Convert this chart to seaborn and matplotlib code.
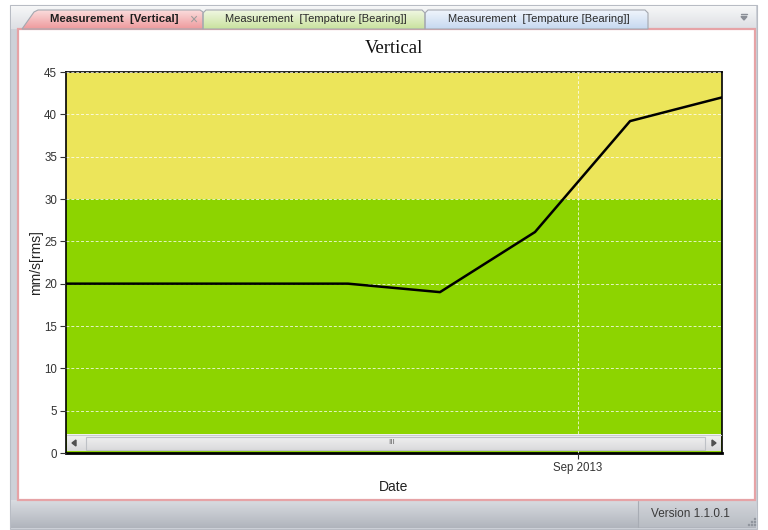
import matplotlib
matplotlib.use("Agg")
import matplotlib.pyplot as plt
import matplotlib.dates as mdates
from matplotlib.colors import to_rgb
from matplotlib.patches import Rectangle, Polygon
import numpy as np
import pandas as pd
import seaborn as sns

# data
dates = pd.to_datetime(["2013-03-18", "2013-04-18", "2013-05-18", "2013-06-18",
                        "2013-07-18", "2013-08-18", "2013-09-18", "2013-10-18"])
vertical = [20.0, 20.0, 20.0, 20.0, 19.0, 26.1, 39.2, 42.0]
warning_level = 30
y_max = 45
y_ticks = list(range(0, 50, 5))
tab_titles = ["Measurement  [Vertical]",
              "Measurement  [Tempature [Bearing]]",
              "Measurement  [Tempature [Bearing]]"]
version_text = "Version 1.1.0.1"

W, H = 768, 530
sns.set_style("white")
plt.rcParams["font.family"] = ["Liberation Sans", "DejaVu Sans"]

fig = plt.figure(figsize=(W / 100, H / 100), dpi=100)
fig.patch.set_facecolor("white")

# pixel-space background for the window chrome
bg = fig.add_axes([0, 0, 1, 1], zorder=0)
bg.set_xlim(0, W)
bg.set_ylim(H, 0)
bg.axis("off")


def grad(ax, x0, x1, y0, y1, c_top, c_bot, clip=None, z=1):
    t = np.linspace(0, 1, 64)[:, None, None]
    img = np.array(to_rgb(c_top)) * (1 - t) + np.array(to_rgb(c_bot)) * t
    im = ax.imshow(img, extent=(x0, x1, y1, y0), aspect="auto", zorder=z,
                   interpolation="bilinear")
    if clip is not None:
        im.set_clip_path(clip)
    return im


# outer frame
bg.add_patch(Rectangle((10, 5), 747, 524, facecolor="#CDD1D8", edgecolor="#B8BCC4", lw=0.8, zorder=0.5))
grad(bg, 11, 756, 6, 29, "#F6F7F8", "#DDDFE3")
# status bar
grad(bg, 11, 756, 500, 528, "#D9DCE1", "#B0B4BC")
bg.plot([638, 638], [501, 527], color="#A8ACB4", lw=0.8, zorder=2)
grad(bg, 639, 756, 501, 527, "#D2D5DA", "#B8BCC3", z=1.5)
bg.text(690, 514, version_text, fontsize=8.5, color="#3A3A3A", ha="center", va="center", zorder=3)
for dx, dy in [(748, 524), (751, 524), (751, 521), (754, 524), (754, 521), (754, 518)]:
    bg.add_patch(Rectangle((dx, dy), 1.2, 1.2, color="#8F949C", zorder=3))

# content panel
bg.add_patch(Rectangle((18, 29), 737, 471, facecolor="white", edgecolor="#E6A3A6", lw=1.6, zorder=2))

# tabs
tab_specs = [
    ([(22, 29), (34, 12), (38, 10), (200, 10), (203, 12), (203, 29)], "#FBDCDC", "#EE9A9D", 114, True),
    ([(203, 29), (203, 13), (206, 10), (422, 10), (425, 13), (425, 29)], "#F0F7E2", "#C9E29E", 316, False),
    ([(425, 29), (425, 13), (428, 10), (645, 10), (648, 13), (648, 29)], "#F0F5FC", "#C6D8F0", 539, False),
]
for (pts, c_top, c_bot, cx, bold), title in zip(tab_specs, tab_titles):
    poly = Polygon(pts, closed=True, facecolor="none", edgecolor="#A4A8B0", lw=0.8, zorder=4)
    bg.add_patch(poly)
    xs = [p[0] for p in pts]
    grad(bg, min(xs), max(xs), 10, 29, c_top, c_bot, clip=poly, z=3)
    bg.text(cx, 19.5, title, fontsize=8.2 if bold else 8, fontweight="bold" if bold else "normal",
            color="#1E1E1E" if bold else "#2A2A2A", ha="center", va="center", zorder=5)
bg.text(193, 20, "\u00d7", fontsize=10, color="#9A9A9A", ha="center", va="center", zorder=5)
# dropdown glyph
bg.plot([741, 747], [14, 14], color="#8A8E96", lw=1, zorder=5)
bg.add_patch(Polygon([(741, 16.5), (747, 16.5), (744, 20)], color="#8A8E96", zorder=5))

# chart axes
L, R, T, B = 66, 722, 72, 453
ax = fig.add_axes([L / W, 1 - B / H, (R - L) / W, (B - T) / H], zorder=2)
ax.axhspan(0, warning_level, color="#8DD400", lw=0, zorder=0)
ax.axhspan(warning_level, y_max, color="#ECE55A", lw=0, zorder=0)
sns.lineplot(x=dates, y=vertical, ax=ax, color="black", lw=1.8, zorder=3)

ax.set_xlim(dates[0], dates[-1])
ax.set_ylim(0, y_max)
ax.set_yticks(y_ticks)
ax.xaxis.set_major_locator(mdates.MonthLocator(bymonth=9))
ax.xaxis.set_major_formatter(mdates.DateFormatter("%b %Y"))
ax.grid(True, color="white", ls=(0, (3, 2)), lw=0.7, alpha=0.75, zorder=1)
ax.set_axisbelow(False)
for gl in ax.get_xgridlines() + ax.get_ygridlines():
    gl.set_zorder(1)
for s in ax.spines.values():
    s.set_color("black")
    s.set_linewidth(1.2)
ax.spines["bottom"].set_linewidth(2)
ax.tick_params(axis="both", direction="out", length=4, width=0.8, color="#333333",
               labelsize=8.3, labelcolor="#333333", pad=2.5, bottom=True, left=True)
ax.set_xlabel("Date", fontsize=10, color="#222222", labelpad=4)
ax.set_ylabel("mm/s[rms]", fontsize=10, color="#222222", labelpad=1)
ax.set_title("Vertical", fontsize=13.5, family="Liberation Serif", color="#111111", pad=14)

# scrollbar drawn over the bottom of the plot
top = fig.add_axes([0, 0, 1, 1], zorder=4)
top.set_xlim(0, W)
top.set_ylim(H, 0)
top.axis("off")
grad(top, L + 1, R - 1, 435, 451.5, "#F4F4F4", "#D9D9DB")
top.plot([L + 1, R - 1], [435, 435], color="#C9CCD0", lw=0.8, zorder=2)
top.add_patch(Rectangle((86, 436.5), 619, 13.5, facecolor="none", edgecolor="#BEC1C6", lw=0.8, zorder=2))
top.add_patch(Polygon([(72, 443), (76, 440), (76, 446)], color="#505050", zorder=3))
top.add_patch(Polygon([(716, 443), (712, 440), (712, 446)], color="#505050", zorder=3))
top.text(392, 443, "III", fontsize=6, color="#707070", ha="center", va="center", zorder=3)
top.set_xlim(0, W)
top.set_ylim(H, 0)
bg.set_xlim(0, W)
bg.set_ylim(H, 0)

fig.savefig("out.png", dpi=100)
